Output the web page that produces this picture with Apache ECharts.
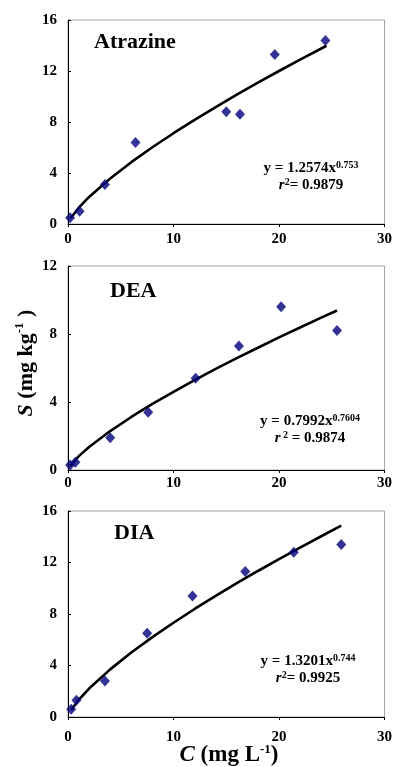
<!DOCTYPE html>
<html>
<head>
<meta charset="utf-8">
<script src="https://cdn.jsdelivr.net/npm/echarts@6/dist/echarts.min.js"></script>
<style>
html,body{margin:0;padding:0;background:#fff;}
#c{width:395px;height:767px;}
</style>
</head>
<body>
<div id="c"></div>
<script>
// ---- data ----
var xTicks = [0, 10, 20, 30];

var atrX = [0.2, 1.1, 3.5, 6.4, 15.0, 16.3, 19.6, 24.4];
var atrY = [0.5, 1.0, 3.1, 6.4, 8.8, 8.6, 13.3, 14.4];
var atrFitX = [0.25, 1, 2, 4, 6, 8, 10, 12, 14, 16, 18, 20, 22, 24.5];
var atrFitY = [0.45, 1.26, 2.12, 3.57, 4.85, 6.02, 7.12, 8.17, 9.17, 10.15, 11.08, 12.0, 12.89, 13.98];

var deaX = [0.2, 0.7, 4.0, 7.6, 12.1, 16.2, 20.2, 25.5];
var deaY = [0.3, 0.45, 1.9, 3.4, 5.4, 7.3, 9.6, 8.2];
var deaFitX = [0.2, 1, 2, 4, 6, 8, 10, 12, 14, 16, 18, 20, 22, 24, 25.5];
var deaFitY = [0.23, 0.80, 1.35, 2.29, 3.12, 3.89, 4.60, 5.29, 5.95, 6.58, 7.19, 7.80, 8.38, 8.96, 9.38];

var diaX = [0.3, 0.8, 3.5, 7.5, 11.8, 16.8, 21.4, 25.9];
var diaY = [0.6, 1.3, 2.8, 6.5, 9.4, 11.3, 12.8, 13.4];
var diaFitX = [0.3, 1, 2, 4, 6, 8, 10, 12, 14, 16, 18, 20, 22, 24, 25.9];
var diaFitY = [0.54, 1.32, 2.21, 3.70, 5.01, 6.20, 7.32, 8.39, 9.40, 10.39, 11.34, 12.26, 13.16, 14.04, 14.86];

var panelNames = ['Atrazine', 'DEA', 'DIA'];
var yMax = [16, 12, 16];
var eqMain = ['y = 1.2574x', 'y = 0.7992x', 'y = 1.3201x'];
var eqExp = ['0.753', '0.7604', '0.744'];
var r2Text = ['= 0.9879', ' = 0.9874', '= 0.9925'];

// ---- helpers ----
function pairs(xs, ys) { return xs.map(function (x, i) { return [x, ys[i]]; }); }
var FF = "'Liberation Serif','Times New Roman',serif";
var grids = [
  {left: 68, right: 9, top: 20, height: 204},
  {left: 68, right: 9, top: 266, height: 204},
  {left: 68, right: 9, top: 511, height: 206}
];
var xLabelMargin = [8, 6, 13];

var xAxes = [], yAxes = [], series = [];
var pts = [pairs(atrX, atrY), pairs(deaX, deaY), pairs(diaX, diaY)];
var fits = [pairs(atrFitX, atrFitY), pairs(deaFitX, deaFitY), pairs(diaFitX, diaFitY)];

for (var i = 0; i < 3; i++) {
  grids[i].show = true;
  grids[i].borderColor = '#a6a6a6';
  grids[i].borderWidth = 1;
  grids[i].backgroundColor = 'transparent';
  xAxes.push({
    gridIndex: i, type: 'value', min: xTicks[0], max: xTicks[xTicks.length - 1], interval: 10,
    axisLine: {show: true, onZero: false, lineStyle: {color: '#000', width: 1}},
    axisTick: {show: true, inside: false, length: 3, lineStyle: {color: '#000'}},
    splitLine: {show: false},
    axisLabel: {fontFamily: FF, fontWeight: 'bold', fontSize: 15, color: '#000', margin: xLabelMargin[i]}
  });
  yAxes.push({
    gridIndex: i, type: 'value', min: 0, max: yMax[i], interval: 4,
    axisLine: {show: true, onZero: false, lineStyle: {color: '#000', width: 1}},
    axisTick: {show: true, inside: true, length: 3, lineStyle: {color: '#000'}},
    splitLine: {show: false},
    axisLabel: {fontFamily: FF, fontWeight: 'bold', fontSize: 15, color: '#000', margin: 11}
  });
  series.push({
    type: 'line', xAxisIndex: i, yAxisIndex: i, data: fits[i],
    showSymbol: false, symbol: 'none', smooth: false,
    lineStyle: {color: '#000', width: 2.6}, z: 2, silent: true
  });
  series.push({
    type: 'scatter', xAxisIndex: i, yAxisIndex: i, data: pts[i],
    symbol: 'diamond', symbolSize: [10, 11],
    itemStyle: {color: '#00007a'}, z: 3, silent: true
  });
}

// ---- annotations ----
var titlePos = [[94, 44], [110, 293], [114, 535]];
var eqPos = [[311, 168, 185], [310, 421, 438], [308, 661, 678]];
var graphics = [];
for (var k = 0; k < 3; k++) {
  graphics.push({
    type: 'text', left: titlePos[k][0], top: titlePos[k][1] - 13,
    style: {text: panelNames[k], font: "bold 22px " + FF, fill: '#000'}
  });
  graphics.push({
    type: 'text', x: eqPos[k][0], y: eqPos[k][1],
    style: {
      text: '{a|' + eqMain[k] + '}{s|' + eqExp[k] + '}',
      align: 'center', verticalAlign: 'middle',
      rich: {
        a: {font: "bold 15px " + FF, fill: '#000', lineHeight: 16, verticalAlign: 'bottom'},
        s: {font: "bold 10px " + FF, fill: '#000', lineHeight: 16, verticalAlign: 'top', padding: [0, 0, 6, 0]}
      }
    }
  });
  graphics.push({
    type: 'text', x: eqPos[k][0], y: eqPos[k][2],
    style: {
      text: '{r|r}{s|' + (k === 1 ? ' 2' : '2') + '}{a|' + r2Text[k] + '}',
      align: 'center', verticalAlign: 'middle',
      rich: {
        r: {font: "italic bold 15px " + FF, fill: '#000', lineHeight: 16, verticalAlign: 'bottom'},
        a: {font: "bold 15px " + FF, fill: '#000', lineHeight: 16, verticalAlign: 'bottom'},
        s: {font: "bold 10px " + FF, fill: '#000', lineHeight: 16, verticalAlign: 'top', padding: [0, 0, 6, 0]}
      }
    }
  });
}
// axis titles
graphics.push({
  type: 'text', x: 229, y: 755,
  style: {
    text: '{i|C}{a| (mg L}{s|-1}{a|)}',
    align: 'center', verticalAlign: 'middle',
    rich: {
      i: {font: "italic bold 23px " + FF, fill: '#000', lineHeight: 24, verticalAlign: 'bottom'},
      a: {font: "bold 23px " + FF, fill: '#000', lineHeight: 24, verticalAlign: 'bottom'},
      s: {font: "bold 13px " + FF, fill: '#000', lineHeight: 24, verticalAlign: 'top', padding: [0, 0, 8, 0]}
    }
  }
});
graphics.push({
  type: 'text', x: 25, y: 363, rotation: Math.PI / 2,
  style: {
    text: '{i|S}{a| (mg kg}{s|-1}{a| )}',
    align: 'center', verticalAlign: 'middle',
    rich: {
      i: {font: "italic bold 22px " + FF, fill: '#000', lineHeight: 24, verticalAlign: 'bottom'},
      a: {font: "bold 22px " + FF, fill: '#000', lineHeight: 24, verticalAlign: 'bottom'},
      s: {font: "bold 13px " + FF, fill: '#000', lineHeight: 24, verticalAlign: 'top', padding: [0, 0, 8, 0]}
    }
  }
});

var chart = echarts.init(document.getElementById('c'), null, {renderer: 'canvas'});
chart.setOption({
  animation: false,
  backgroundColor: '#fff',
  grid: grids,
  xAxis: xAxes,
  yAxis: yAxes,
  series: series,
  graphic: graphics
});
</script>
</body>
</html>
